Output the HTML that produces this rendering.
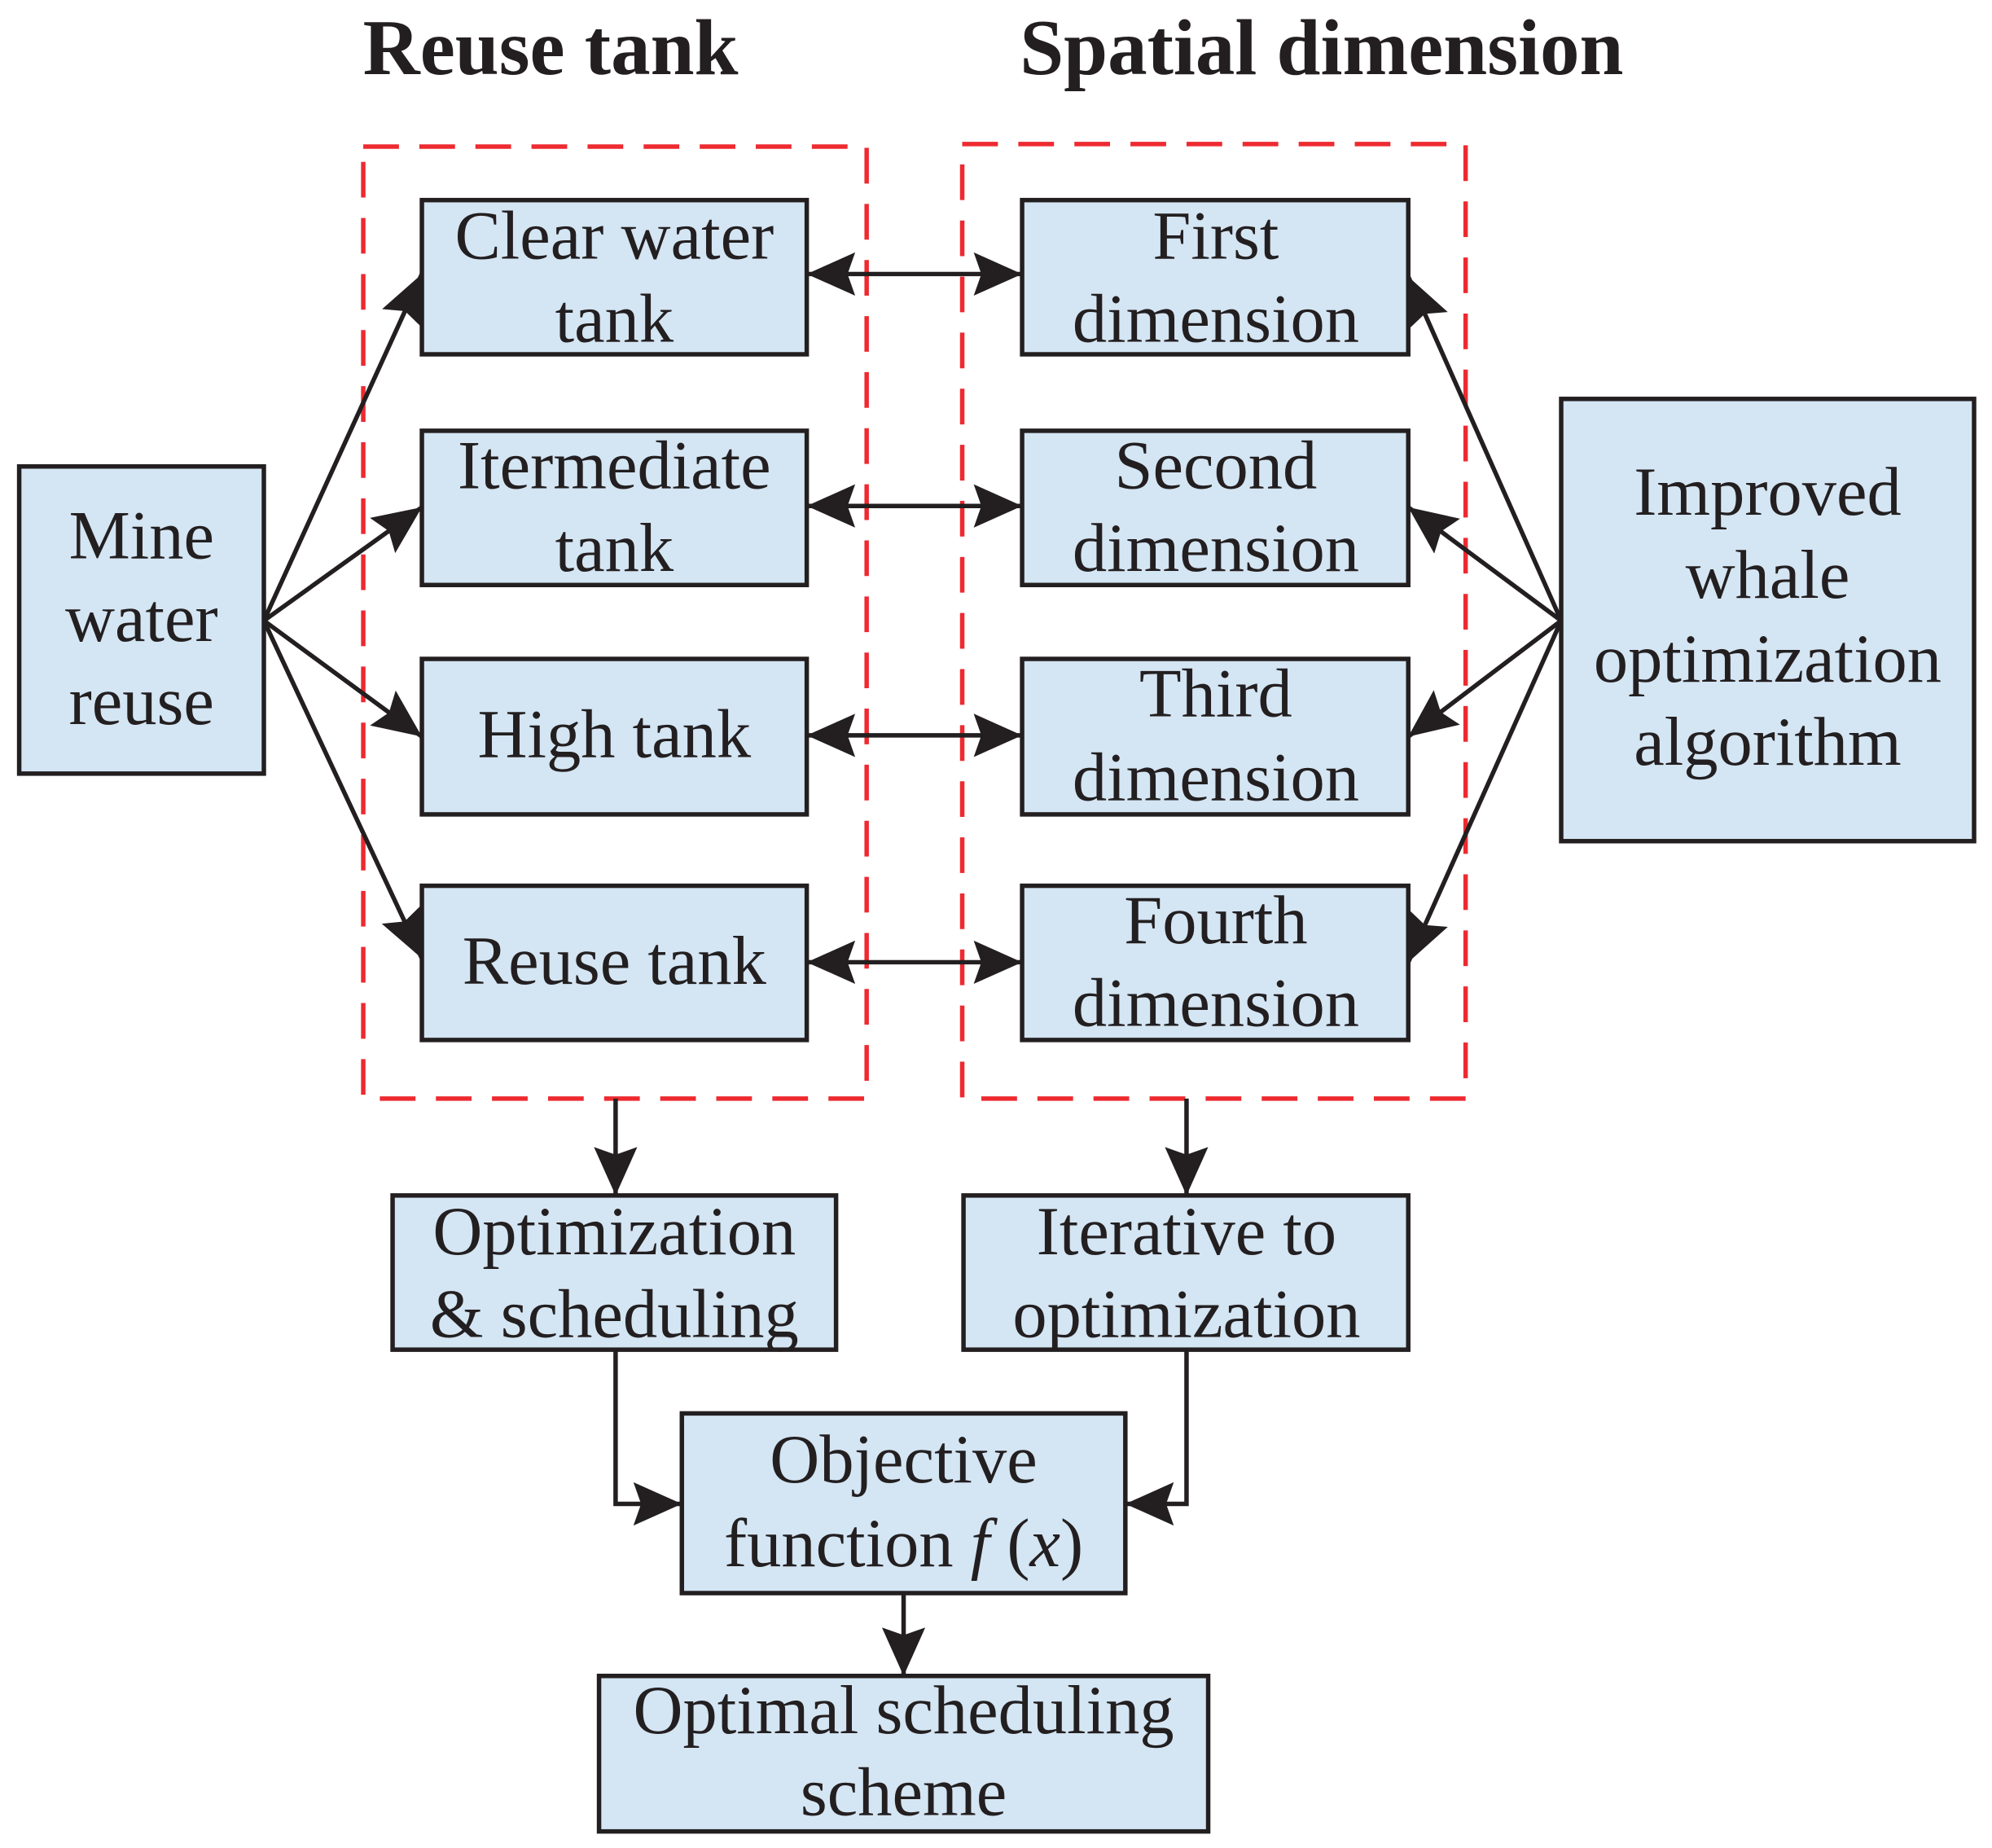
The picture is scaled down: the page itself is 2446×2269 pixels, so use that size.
<!DOCTYPE html>
<html><head><meta charset="utf-8"><style>html,body{margin:0;padding:0;background:#fff}svg{display:block}</style></head>
<body>
<svg width="2446" height="2269" viewBox="0 0 1563 1450" xmlns="http://www.w3.org/2000/svg" font-family="'Liberation Serif', serif" fill="#231f20">
<defs>
<marker id="a" markerUnits="userSpaceOnUse" markerWidth="42" markerHeight="38" refX="38" refY="17" orient="auto-start-reverse" viewBox="0 0 42 34">
<path d="M0,0 L38,17 L0,34 L6,17 Z" fill="#231f20"/></marker>
</defs>
<g font-weight="bold" font-size="62" text-anchor="middle">
<text x="432" y="58">Reuse tank</text>
<text x="1037" y="58">Spatial dimension</text>
</g>
<g fill="none" stroke="#ed2a30" stroke-width="3.5" stroke-dasharray="28,16">
<rect x="285" y="115" width="395" height="747"/>
<rect x="755" y="113" width="395" height="749"/>
</g>
<g fill="#d4e5f3" stroke="#231f20" stroke-width="3.5">
<rect x="15" y="366" width="192" height="241"/>
<rect x="1225" y="313" width="324" height="347"/>
<rect x="331" y="157" width="302" height="121"/>
<rect x="331" y="338" width="302" height="121"/>
<rect x="331" y="517" width="302" height="122"/>
<rect x="331" y="695" width="302" height="121"/>
<rect x="802" y="157" width="303" height="121"/>
<rect x="802" y="338" width="303" height="121"/>
<rect x="802" y="517" width="303" height="122"/>
<rect x="802" y="695" width="303" height="121"/>
<rect x="308" y="938" width="348" height="121"/>
<rect x="756" y="938" width="349" height="121"/>
<rect x="535" y="1109" width="348" height="141"/>
<rect x="470" y="1315" width="478" height="122"/>
</g>
<g stroke="#231f20" stroke-width="3.5" fill="none" marker-end="url(#a)">
<line x1="207" y1="487" x2="331" y2="215"/>
<line x1="207" y1="487" x2="331" y2="398"/>
<line x1="207" y1="487" x2="331" y2="578"/>
<line x1="207" y1="487" x2="331" y2="752"/>
<line x1="1225" y1="487" x2="1105" y2="217"/>
<line x1="1225" y1="487" x2="1105" y2="398"/>
<line x1="1225" y1="487" x2="1105" y2="578"/>
<line x1="1225" y1="487" x2="1105" y2="755"/>
<line x1="633" y1="215" x2="802" y2="215" marker-start="url(#a)"/>
<line x1="633" y1="397" x2="802" y2="397" marker-start="url(#a)"/>
<line x1="633" y1="577" x2="802" y2="577" marker-start="url(#a)"/>
<line x1="633" y1="755" x2="802" y2="755" marker-start="url(#a)"/>
<line x1="483" y1="862" x2="483" y2="938"/>
<line x1="931" y1="862" x2="931" y2="938"/>
<polyline points="483,1059 483,1180 535,1180"/>
<polyline points="931,1059 931,1180 883,1180"/>
<line x1="709" y1="1250" x2="709" y2="1315"/>
</g>
<g font-size="54" text-anchor="middle">
<text x="111" y="438">Mine</text><text x="111" y="503">water</text><text x="111" y="568">reuse</text>
<text x="1387" y="404">Improved</text><text x="1387" y="469">whale</text><text x="1387" y="535">optimization</text><text x="1387" y="600">algorithm</text>
<text x="482" y="203">Clear water</text><text x="482" y="268">tank</text>
<text x="482" y="383">Itermediate</text><text x="482" y="448">tank</text>
<text x="482" y="594">High tank</text>
<text x="482" y="772">Reuse tank</text>
<text x="954" y="203">First</text><text x="954" y="268">dimension</text>
<text x="954" y="383">Second</text><text x="954" y="448">dimension</text>
<text x="954" y="562">Third</text><text x="954" y="628">dimension</text>
<text x="954" y="740">Fourth</text><text x="954" y="805">dimension</text>
<text x="482" y="984">Optimization</text><text x="482" y="1049">&amp; scheduling</text>
<text x="931" y="984">Iterative to</text><text x="931" y="1049">optimization</text>
<text x="709" y="1163">Objective</text>
<text x="709" y="1229">function <tspan font-style="italic">f</tspan> (<tspan font-style="italic">x</tspan>)</text>
<text x="709" y="1360">Optimal scheduling</text><text x="709" y="1424">scheme</text>
</g>
</svg>
</body></html>
